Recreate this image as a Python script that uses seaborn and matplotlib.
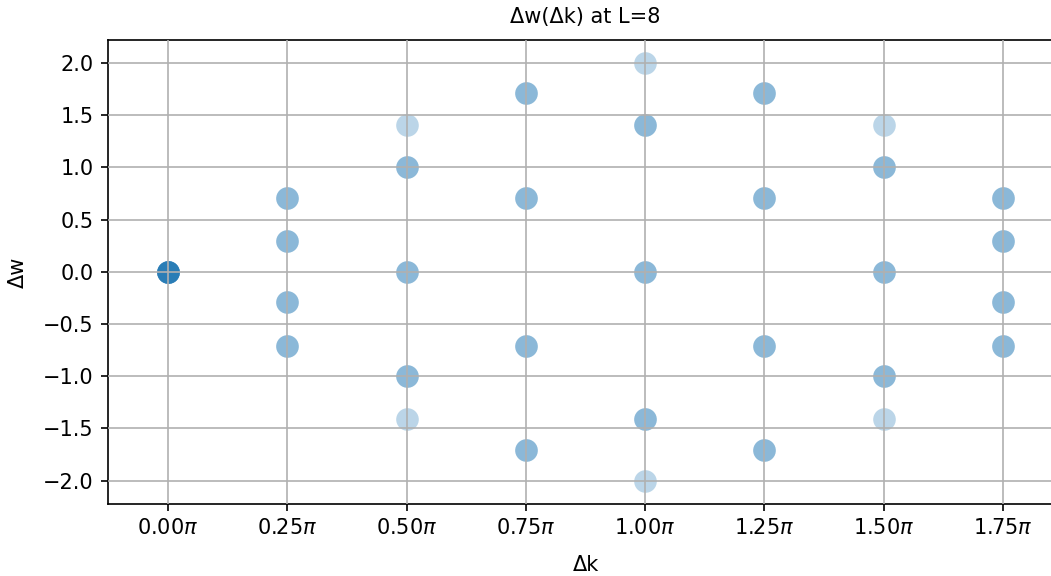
import matplotlib
matplotlib.use("Agg")
import matplotlib.pyplot as plt
from matplotlib.ticker import FuncFormatter, MultipleLocator
import seaborn as sns
import pandas as pd

# Δk in units of π, with the eight Δw values found at each Δk (repeats overlap)
dk_0_00 = [0.0, 0.0, 0.0, 0.0, 0.0, 0.0, 0.0, 0.0]
dk_0_25 = [0.71, 0.71, 0.29, 0.29, -0.29, -0.29, -0.71, -0.71]
dk_0_50 = [1.41, 1.0, 1.0, 0.0, 0.0, -1.0, -1.0, -1.41]
dk_0_75 = [1.71, 1.71, 0.71, 0.71, -0.71, -0.71, -1.71, -1.71]
dk_1_00 = [2.0, 1.41, 1.41, 0.0, 0.0, -1.41, -1.41, -2.0]
dk_1_25 = [1.71, 1.71, 0.71, 0.71, -0.71, -0.71, -1.71, -1.71]
dk_1_50 = [1.41, 1.0, 1.0, 0.0, 0.0, -1.0, -1.0, -1.41]
dk_1_75 = [0.71, 0.71, 0.29, 0.29, -0.29, -0.29, -0.71, -0.71]

dk_values = [0.0, 0.25, 0.5, 0.75, 1.0, 1.25, 1.5, 1.75]
dw_groups = [dk_0_00, dk_0_25, dk_0_50, dk_0_75, dk_1_00, dk_1_25, dk_1_50, dk_1_75]

rows = []
for k, ws in zip(dk_values, dw_groups):
    for w in ws:
        rows.append({"dk": k, "dw": w})
df = pd.DataFrame(rows)

plt.rcParams["font.family"] = ["DejaVu Sans"]
fs = 15
fig = plt.figure(figsize=(10.51, 5.76), dpi=100)
ax = fig.add_axes([108 / 1051, 1 - 504 / 576, (1063 - 108) / 1051, (504 - 40) / 576])

sns.scatterplot(data=df, x="dk", y="dw", ax=ax, color="#1f77b4", alpha=0.3,
                s=265, linewidth=0)

ax.set_xlim(-0.126, 1.75 + 0.126)
ax.set_ylim(-2.225, 2.22)
ax.xaxis.set_major_locator(MultipleLocator(0.25))
ax.yaxis.set_major_locator(MultipleLocator(0.5))
ax.xaxis.set_major_formatter(FuncFormatter(lambda v, p: f"{v:.2f}$\\pi$"))
ax.yaxis.set_major_formatter(FuncFormatter(lambda v, p: f"{v:.1f}".replace("-", "\u2212")))
ax.grid(True, color="#b0b0b0", linewidth=1.2)
ax.set_axisbelow(False)
for sp in ax.spines.values():
    sp.set_linewidth(1.2)
ax.tick_params(labelsize=fs, length=5.25, width=1.2, pad=5)
ax.set_xlabel("Δk", fontsize=fs, labelpad=12)
ax.set_ylabel("Δw", fontsize=fs, labelpad=11)
ax.set_title("Δw(Δk) at L=8", fontsize=fs, pad=12)

fig.savefig("out.png", dpi=100)
